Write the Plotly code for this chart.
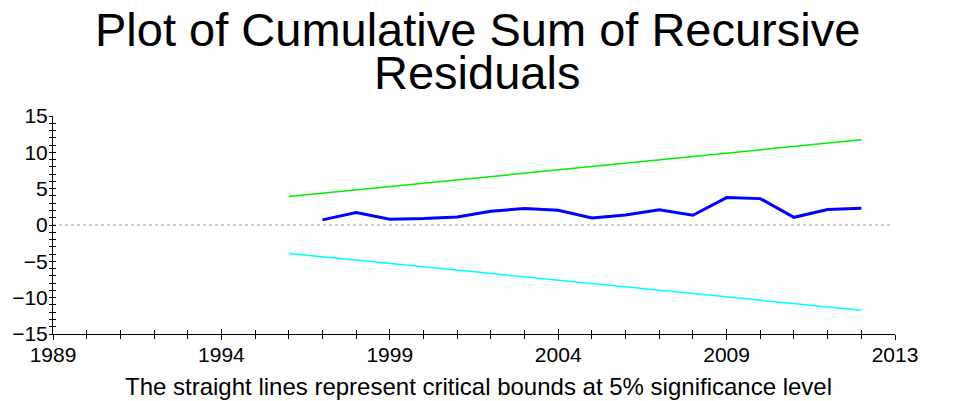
import plotly.graph_objects as go

# CUSUM of recursive residuals
years = list(range(1997, 2014))
cusum = [0.70, 1.72, 0.79, 0.88, 1.11, 1.90, 2.27, 2.04, 0.98, 1.39,
         2.09, 1.34, 3.77, 3.63, 1.06, 2.13, 2.30]

# 5% critical bounds (straight lines)
bound_years = [1996, 2013]
upper_bound = [3.91, 11.73]
lower_bound = [-3.91, -11.73]

x_tickvals = [1989, 1994, 1999, 2004, 2009, 2014]
x_ticktext = ["1989", "1994", "1999", "2004", "2009", "2013"]
y_tickvals = [-15, -10, -5, 0, 5, 10, 15]

title_line1 = "Plot of Cumulative Sum of Recursive"
title_line2 = "Residuals"
footer = "The straight lines represent critical bounds at 5% significance level"

FONT = "Liberation Sans, Arial, sans-serif"
W, H = 955, 401
ML, MR, MT, MB = 53, 60, 116, 67
PH = H - MT - MB

def py(ypx):
    return (H - MB - ypx) / PH

def px(xpx):
    return (xpx - ML) / (W - ML - MR)

fig = go.Figure()
fig.add_trace(go.Scatter(x=bound_years, y=upper_bound, mode="lines",
                         line=dict(color="#00EE00", width=1.5), showlegend=False))
fig.add_trace(go.Scatter(x=bound_years, y=lower_bound, mode="lines",
                         line=dict(color="#00FFFF", width=1.5), showlegend=False))
fig.add_trace(go.Scatter(x=years, y=cusum, mode="lines",
                         line=dict(color="#0000FF", width=3), showlegend=False))
# invisible trace on overlay axes so they render
fig.add_trace(go.Scatter(x=[1989], y=[0], xaxis="x2", yaxis="y2", mode="markers",
                         marker=dict(opacity=0), showlegend=False, hoverinfo="skip"))

fig.add_shape(type="line", xref="paper", x0=0, x1=0.995, yref="y", y0=0, y1=0,
              line=dict(color="#999999", width=1, dash="dot"), layer="below")

axis_common = dict(showgrid=False, zeroline=False, showline=True, linecolor="black",
                   linewidth=1, tickcolor="black", tickwidth=1, automargin=False)

fig.update_layout(
    width=W, height=H,
    margin=dict(l=ML, r=MR, t=MT, b=MB, autoexpand=False),
    paper_bgcolor="white", plot_bgcolor="white",
    font=dict(family=FONT, color="black"),
    xaxis=dict(range=[1989, 2014], tickmode="array", tickvals=x_tickvals,
               ticktext=x_ticktext, ticks="outside", ticklen=5,
               ticklabelstandoff=-3,
               minor=dict(dtick=1, tick0=1989, ticks="outside", ticklen=4,
                          tickcolor="black"),
               tickfont=dict(size=21), **axis_common),
    yaxis=dict(range=[-15, 15], tickmode="array", tickvals=y_tickvals,
               ticks="outside", ticklen=3, ticklabelstandoff=-3,
               minor=dict(dtick=1, tick0=0, ticks="outside", ticklen=3,
                          tickcolor="black"),
               tickfont=dict(size=21), **axis_common),
    xaxis2=dict(range=[1989, 2014], overlaying="x", anchor="y2",
                tickmode="array", tickvals=x_tickvals, showticklabels=False,
                ticks="inside", ticklen=5,
                minor=dict(dtick=1, tick0=1989, ticks="inside", ticklen=4,
                           tickcolor="black"),
                **axis_common),
    yaxis2=dict(range=[-15, 15], overlaying="y", anchor="x2", side="left",
                tickmode="array", tickvals=y_tickvals, showticklabels=False,
                ticks="inside", ticklen=3,
                minor=dict(dtick=1, tick0=0, ticks="inside", ticklen=3,
                           tickcolor="black"),
                **axis_common),
    annotations=[
        dict(text=title_line1, xref="paper", yref="paper", x=px(477),
             y=py(29), xanchor="center", yanchor="middle", showarrow=False,
             font=dict(size=47, family=FONT)),
        dict(text=title_line2, xref="paper", yref="paper", x=px(477),
             y=py(72), xanchor="center", yanchor="middle", showarrow=False,
             font=dict(size=47, family=FONT)),
        dict(text=footer, xref="paper", yref="paper", x=px(478),
             y=py(386), xanchor="center", yanchor="middle", showarrow=False,
             font=dict(size=24, family=FONT)),
    ],
)

fig.write_html("out.html", config={"displayModeBar": False},
               post_script="document.body.style.margin='0';document.body.style.overflow='hidden';")
